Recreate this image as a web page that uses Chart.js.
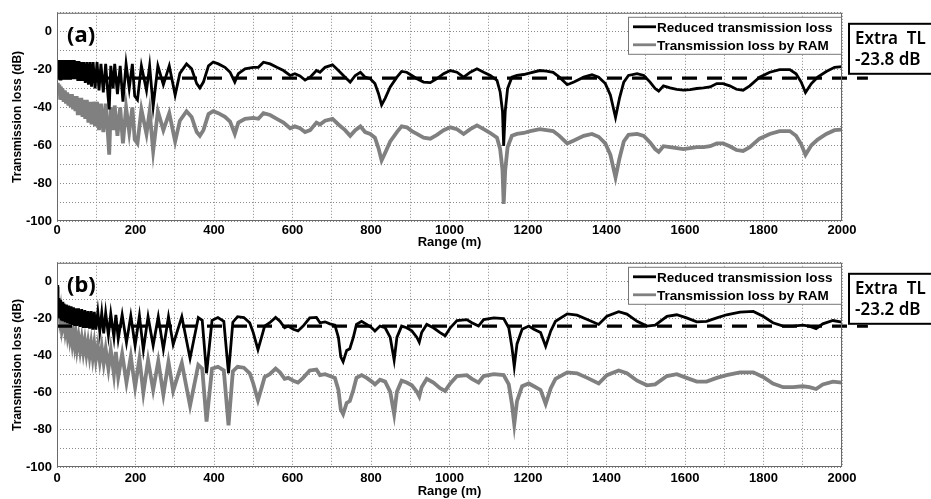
<!DOCTYPE html>
<html>
<head>
<meta charset="utf-8">
<title>Transmission loss</title>
<script src="https://cdn.jsdelivr.net/npm/chart.js@4.4.1/dist/chart.umd.min.js"></script>
<style>
  body { margin: 0; background: #fff; }
  #wrap { position: relative; width: 931px; height: 499px; }
  canvas { position: absolute; left: 0; }
</style>
</head>
<body>
<div id="wrap">
  <canvas id="chartA" width="931" height="250" style="top:0"></canvas>
  <canvas id="chartB" width="931" height="249" style="top:250px"></canvas>
</div>
<script>
// series names (legend)
const seriesNames = ['Reduced transmission loss', 'Transmission loss by RAM'];

// panel (a) - range in m, values in dB
const rangeA = [
  0, 2, 4, 6, 8, 10, 12, 14, 17, 20,
  23, 26, 29, 32, 35, 38, 41, 44, 47, 50,
  53, 56, 59, 62, 65, 68, 72, 76, 80, 84,
  88, 92, 97, 102, 107, 112, 118, 124, 130, 133,
  137, 143, 147, 154, 161, 168, 176, 184, 192, 198,
  205, 215, 228, 236, 245, 257, 271, 286, 301, 313,
  330, 343, 356, 364, 373, 386, 398, 411, 428, 441,
  453, 462, 479, 500, 513, 526, 543, 560, 577, 594,
  606, 619, 632, 645, 661, 670, 683, 702, 717, 734,
  747, 760, 773, 785, 798, 810, 819, 827, 836, 849,
  866, 878, 891, 904, 917, 934, 951, 968, 985, 1002,
  1019, 1036, 1053, 1070, 1087, 1104, 1121, 1129, 1135, 1138,
  1142, 1148, 1159, 1172, 1189, 1206, 1230, 1247, 1264, 1280,
  1300, 1317, 1342, 1363, 1380, 1397, 1410, 1423, 1433, 1444,
  1456, 1478, 1495, 1511, 1524, 1533, 1545, 1562, 1579, 1596,
  1613, 1630, 1647, 1664, 1681, 1697, 1714, 1731, 1748, 1765,
  1790, 1816, 1841, 1867, 1883, 1896, 1907, 1922, 1938, 1960,
  1981, 2000
];
const reducedA = [
  -20, -15, -25, -15, -25, -15, -25, -15, -25, -15,
  -25, -15, -25, -15, -25, -15, -25, -15, -25, -15.5,
  -26, -15.5, -26, -16, -26, -16, -27, -16, -28, -16,
  -29, -16, -30, -16, -31, -17, -32, -17, -34, -41,
  -18, -30, -17, -33, -18, -37, -17, -30, -17, -34,
  -36, -18, -31, -18, -39.5, -18, -28, -18, -33.5, -22,
  -17, -19.6, -27.4, -29.7, -26.6, -18, -16, -17, -18.8, -21.4,
  -26.6, -22.2, -19.6, -18.8, -18.8, -16.1, -17, -18.8, -20.5, -23.1,
  -22.2, -23.4, -25.5, -24, -20.5, -21.4, -18.8, -17.5, -20.5, -24,
  -26.6, -23.1, -21.4, -24, -24.8, -27.4, -32.6, -38.7, -35.2, -29.2,
  -24, -21, -21.4, -23.1, -24.8, -26.6, -26.9, -24.8, -22.2, -20.5,
  -21.4, -24, -21.4, -19.6, -21.4, -23.1, -25.7, -31.8, -42, -60.4,
  -42, -30, -24, -23.1, -22.6, -21.7, -20.5, -20.8, -21.5, -24,
  -28, -26.6, -24, -22.7, -24, -27.4, -33.5, -45.3, -35.2, -26.6,
  -23.1, -22.2, -23.1, -26.6, -30, -31.4, -28.6, -29.7, -30.4, -30.9,
  -30.6, -30, -29.7, -29.2, -27.4, -27.4, -28.6, -30.4, -30.9, -28.6,
  -24, -21.4, -20, -20, -22.2, -26.6, -32.1, -27.4, -24, -21,
  -18.8, -18.4
];
const ramA = [
  -28, -27, -33, -28, -35, -29, -36, -30, -37, -31,
  -38, -32, -39, -33, -40, -33, -41, -34, -42, -34,
  -44, -35, -44, -35, -45, -36, -46, -36, -48, -37,
  -49, -37, -50, -37, -52, -38, -53, -38, -55, -65,
  -40, -52, -39, -55, -40, -59, -40, -53, -40, -57,
  -59, -41, -54, -42, -63, -42, -52, -43, -58, -47,
  -42, -45, -53, -55, -52, -43.5, -42, -43, -45, -47.5,
  -54, -48, -46, -45.5, -46, -43, -44, -46, -48, -51,
  -50, -51, -53, -52, -48, -49, -47, -46, -49, -52,
  -55, -52, -50, -53, -54, -56, -61.5, -68, -64, -58,
  -53, -50, -50.5, -52.5, -54, -56, -56.5, -54.5, -52, -50.5,
  -51.5, -54, -51.5, -49.5, -51.5, -53.5, -56, -62, -73, -91,
  -73, -61, -55, -54, -53.5, -52.5, -51.5, -52, -52.5, -55,
  -59, -57.5, -55, -54, -55.5, -59, -65, -77, -67, -58,
  -54.5, -54, -55, -58.5, -62, -63.5, -60.5, -61, -61.5, -62,
  -61.5, -61, -61, -60.5, -59, -59, -60.5, -62.5, -63, -61,
  -56.5, -54, -52.5, -52.5, -55, -59.5, -65, -60, -57, -54,
  -52, -51.7
];

// panel (b)
const rangeB = [
  0, 2, 3, 5, 7, 9, 11, 13, 15, 18,
  21, 24, 27, 30, 33, 36, 39, 42, 45, 48,
  51, 55, 59, 63, 67, 71, 75, 79, 83, 87,
  91, 95, 99, 104, 109, 114, 119, 124, 131, 137,
  145, 150, 156, 166, 177, 188, 199, 210, 220, 232,
  245, 258, 271, 284, 296, 318, 339, 360, 370, 381,
  395, 410, 425, 437, 448, 460, 476, 491, 500, 512,
  521, 529, 542, 557, 568, 580, 589, 602, 614, 627,
  644, 661, 670, 683, 695, 708, 717, 723, 729, 738,
  746, 755, 763, 776, 789, 802, 810, 823, 836, 849,
  859, 866, 878, 891, 904, 917, 923, 929, 942, 959,
  976, 989, 1002, 1019, 1044, 1057, 1074, 1087, 1113, 1138,
  1151, 1159, 1165, 1172, 1185, 1202, 1215, 1232, 1245, 1258,
  1270, 1300, 1325, 1351, 1380, 1401, 1431, 1452, 1478, 1503,
  1524, 1554, 1579, 1604, 1630, 1655, 1681, 1706, 1740, 1774,
  1799, 1824, 1850, 1875, 1900, 1917, 1934, 1951, 1977, 2000
];
const reducedB = [
  -2, -8, -19, -9, -20, -10, -21, -11, -21.5, -12,
  -22, -12.5, -22.5, -13, -23, -13.5, -23.5, -14, -24, -14.5,
  -24, -14.5, -24.5, -15, -25, -15.5, -25, -16, -25.5, -16,
  -26, -16.5, -26, -16.5, -27, -17, -28, -17, -29, -17.5,
  -30, -18, -31, -18, -33, -18.5, -34.5, -18.5, -37, -19,
  -34.5, -19, -36.5, -19, -34, -19, -41.5, -19.5, -21, -49.5,
  -21, -19.5, -21.5, -49.5, -22, -19, -19.5, -22.3, -27.6, -36.8,
  -30.2, -24.1, -22.3, -19.4, -21.5, -25, -24.1, -25.8, -26.7, -24.1,
  -19.7, -19.4, -22.3, -21.8, -22.9, -23.6, -30.2, -40.7, -43.3, -37.2,
  -36.3, -30.2, -23.2, -21.5, -23.2, -25, -26.7, -24.1, -25, -30.2,
  -42.4, -30.2, -24.1, -25, -26.7, -30.2, -32.8, -27.6, -23.2, -25,
  -27.6, -29.3, -25, -21.1, -20.6, -22.3, -24.1, -20.6, -19.7, -20.1,
  -25, -35.4, -45.9, -33.7, -25.8, -24.1, -25.8, -27.6, -35, -26.7,
  -21.5, -17.5, -18.2, -20.5, -23.2, -18.8, -16.3, -17.6, -21.5, -24.1,
  -23.6, -18.8, -18, -19.7, -21.8, -21.5, -19.7, -18, -16.6, -16.2,
  -18.8, -22.3, -24.1, -24.1, -23.6, -24.1, -25.5, -22.9, -21.1, -22
];
const ramB = [
  -3, -11, -15, -13, -19, -16, -22, -19, -24, -21,
  -27, -23, -29, -25, -31, -27, -33, -28, -34, -29,
  -36, -30, -37, -31, -38, -32, -39, -33, -40, -33.5,
  -41, -34, -42, -35, -43, -35.5, -44, -36.5, -47, -37,
  -50, -38, -51.5, -39, -54.5, -40.5, -57, -41.5, -60, -42.5,
  -58.5, -43, -61, -43.5, -59, -44, -67, -45, -47, -75.5,
  -47, -46, -48, -77.5, -48.5, -46, -46.5, -49.5, -55, -64,
  -57.5, -51.5, -50, -47, -49, -52.5, -52, -53.5, -54.5, -52,
  -48, -47.5, -50.5, -50, -51, -52, -58.5, -69, -71.5, -65.5,
  -64.5, -58.5, -52, -50.5, -52, -54, -55.5, -53, -54, -59.5,
  -71.5, -59.5, -53.5, -54.5, -56, -59.5, -62, -57, -52.5, -54.5,
  -57.5, -59, -55, -51, -50.5, -52.5, -54.5, -51, -50, -50.5,
  -55.5, -66, -77, -64.5, -56.5, -55, -56.5, -58.5, -66, -57.5,
  -52.5, -49, -49.5, -52, -55, -50.5, -48, -49.5, -53.5, -56,
  -55.5, -51, -50, -52, -54, -54, -52, -50.5, -49, -49,
  -51.5, -55, -57, -57, -56.5, -57, -58, -55.5, -54, -54.6
];

// dashed "Extra TL" level, as drawn, and where the dashes stop (m)
const levelA = -24.5;
const levelB = -24.1;
const dashEnd = 2066;
const extraText = ['-23.8 dB', '-23.2 dB'];

Chart.defaults.font.family = '"Liberation Sans", Arial, sans-serif';
Chart.defaults.font.size = 13;
Chart.defaults.font.weight = 'bold';
Chart.defaults.color = '#000';

// frame, panel letter, legend box and Extra TL box
const panelDecor = {
  id: 'panelDecor',
  afterDraw(chart, args, opts) {
    const ctx = chart.ctx;
    const a = chart.chartArea;
    ctx.save();
    ctx.strokeStyle = '#6a6a6a';
    ctx.lineWidth = 1;
    ctx.setLineDash([]);
    ctx.strokeRect(a.left + 0.5, a.top + 0.5, a.right - a.left - 1, a.bottom - a.top - 1);

    ctx.fillStyle = '#000';
    ctx.textBaseline = 'middle';
    ctx.font = 'bold 22px "Noto Sans", sans-serif';
    ctx.fillText(opts.letter, a.left + 10, a.top + 23);

    // legend
    const lx = a.right - 214, ly = a.top + 4, lw = 213, lh = 37;
    ctx.fillStyle = '#fff';
    ctx.fillRect(lx, ly, lw, lh);
    ctx.strokeStyle = '#777';
    ctx.strokeRect(lx + 0.5, ly + 0.5, lw, lh);
    ctx.font = 'bold 13.5px "Liberation Sans", Arial, sans-serif';
    chart.data.datasets.slice(0, 2).forEach((ds, i) => {
      const y = ly + 10 + i * 18;
      ctx.strokeStyle = ds.borderColor;
      ctx.lineWidth = 2.8;
      ctx.beginPath();
      ctx.moveTo(lx + 5, y);
      ctx.lineTo(lx + 28, y);
      ctx.stroke();
      ctx.fillStyle = '#000';
      ctx.fillText(ds.label, lx + 29, y + 1);
    });

    // Extra TL box
    const bx = a.right + 6, by = a.top + 10;
    ctx.fillStyle = '#fff';
    ctx.fillRect(bx, by, 100, 52);
    ctx.strokeStyle = '#000';
    ctx.lineWidth = 2;
    ctx.strokeRect(bx + 1, by + 1, 100, 50);
    ctx.fillStyle = '#000';
    ctx.font = '600 17px "Noto Sans", sans-serif';
    ctx.fillText('Extra  TL', bx + 7, by + 16);
    ctx.fillText(opts.extra, bx + 7, by + 37);
    ctx.restore();
  }
};

function makePanel(id, letter, range, reduced, ram, level, extra, padTop, xHeight, tickPad) {
  const pts = (vals) => range.map((r, i) => ({ x: r, y: vals[i] }));
  return new Chart(document.getElementById(id), {
    type: 'line',
    data: {
      datasets: [
        { label: seriesNames[0], data: pts(reduced), borderColor: '#000', borderWidth: 2.8, order: 1 },
        { label: seriesNames[1], data: pts(ram), borderColor: '#808080', borderWidth: 3.8, order: 2 },
        { label: 'Extra TL', data: [{ x: 0, y: level }, { x: dashEnd, y: level }],
          borderColor: '#000', borderWidth: 3.3, borderDash: [15, 10], clip: false, order: 0 }
      ]
    },
    options: {
      responsive: false,
      animation: false,
      devicePixelRatio: 1,
      layout: { padding: { left: 0, top: padTop, right: 89, bottom: 0 } },
      elements: { point: { radius: 0 }, line: { tension: 0 } },
      plugins: {
        legend: { display: false },
        tooltip: { enabled: false },
        panelDecor: { letter: letter, extra: extra }
      },
      scales: {
        x: {
          type: 'linear', min: 0, max: 2000,
          afterFit: (s) => { s.height = xHeight; },
          ticks: { stepSize: 100, autoSkip: false, maxRotation: 0, padding: tickPad,
                   callback: (v) => (v % 200 === 0 ? v : '') },
          grid: { color: '#8a8a8a', drawTicks: false },
          border: { display: false, dash: [1, 2] },
          title: { display: true, text: 'Range (m)', padding: { top: 0, bottom: 0 } }
        },
        y: {
          min: -100, max: 10,
          afterFit: (s) => { s.width = 57; },
          ticks: { stepSize: 10, autoSkip: false, padding: 5,
                   callback: (v) => (v % 20 === 0 && v <= 0 ? v : '') },
          grid: { color: '#8a8a8a', drawTicks: false },
          border: { display: false, dash: [1, 2] },
          title: { display: true, text: 'Transmission loss (dB)', font: { size: 12 },
                   padding: { top: 10, bottom: 0 } }
        }
      }
    },
    plugins: [panelDecor]
  });
}

makePanel('chartA', '(a)', rangeA, reducedA, ramA, levelA, extraText[0], 10, 29, 2);
makePanel('chartB', '(b)', rangeB, reducedB, ramB, levelB, extraText[1], 8, 32, 4);
</script>
</body>
</html>
